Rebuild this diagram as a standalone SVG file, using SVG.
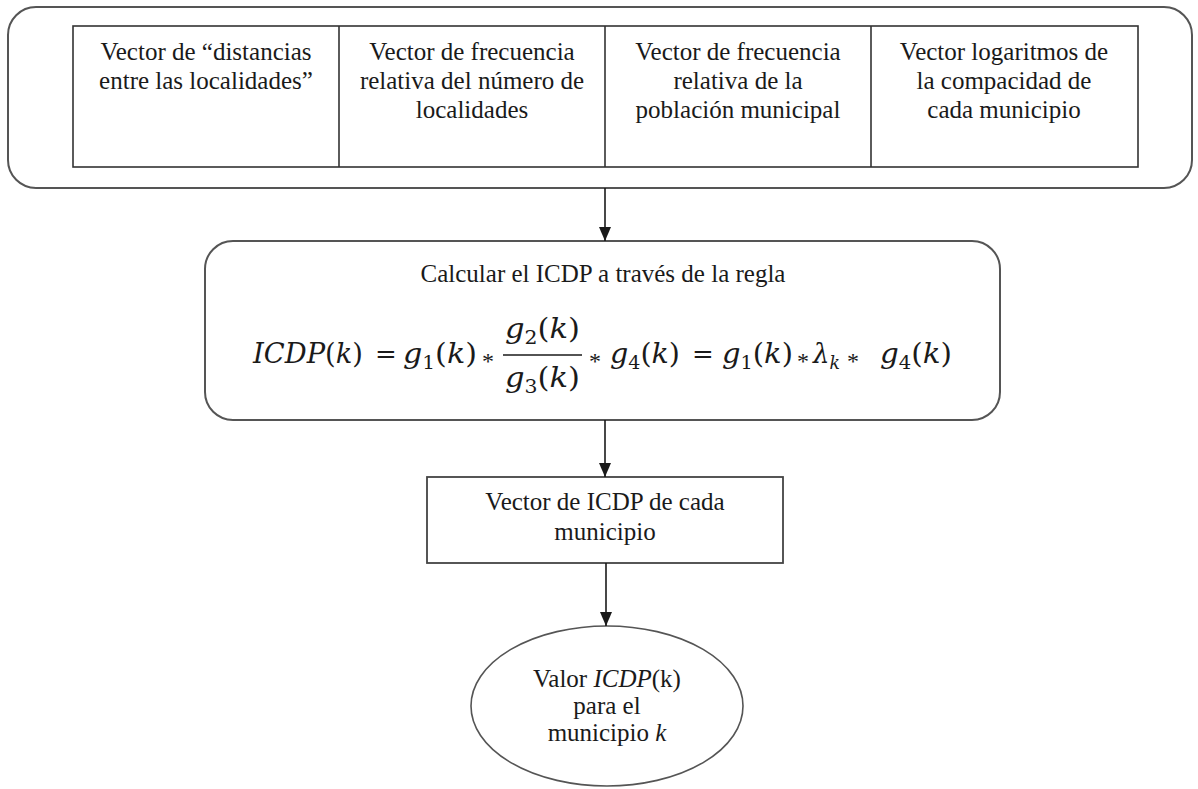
<svg xmlns="http://www.w3.org/2000/svg" width="1198" height="789" viewBox="0 0 1198 789">
<style>
.t{font-family:"Liberation Serif","Times New Roman",serif;font-size:25px;fill:#1a1a1a;text-anchor:middle}
.m{font-family:"DejaVu Serif","Liberation Serif",serif;font-size:27px;fill:#1a1a1a}
.i{font-style:italic}
.s{font-size:18px}
.op{font-family:"Liberation Serif","Times New Roman",serif;font-size:24px;fill:#1a1a1a;text-anchor:middle}
.eq{font-family:"DejaVu Serif","Liberation Serif",serif;font-size:26px;fill:#1a1a1a;text-anchor:middle}
.box{fill:#fff;stroke:#555;stroke-width:2}
.cell{fill:none;stroke:#333;stroke-width:1.6}
.conn{stroke:#1a1a1a;stroke-width:1.6;fill:none}
</style>
<defs>
<marker id="ah" viewBox="0 0 14 12" refX="14" refY="6" markerWidth="14" markerHeight="12" markerUnits="userSpaceOnUse" orient="auto">
<path d="M0,0 L14,6 L0,12 Z" fill="#1a1a1a"/>
</marker>
</defs>
<rect width="1198" height="789" fill="#fff"/>

<g id="inputs">
<rect class="box" x="8" y="7" width="1184" height="181" rx="28"/>
<rect class="cell" x="73" y="26" width="1065" height="141"/>
<line class="cell" x1="339" y1="26" x2="339" y2="167"/>
<line class="cell" x1="605" y1="26" x2="605" y2="167"/>
<line class="cell" x1="871" y1="26" x2="871" y2="167"/>
<text class="t" x="206" y="60">Vector de “distancias</text>
<text class="t" x="206" y="89">entre las localidades”</text>
<text class="t" x="472" y="60">Vector de frecuencia</text>
<text class="t" x="472" y="89">relativa del número de</text>
<text class="t" x="472" y="118">localidades</text>
<text class="t" x="738" y="60">Vector de frecuencia</text>
<text class="t" x="738" y="89">relativa de la</text>
<text class="t" x="738" y="118">población municipal</text>
<text class="t" x="1004" y="60">Vector logaritmos de</text>
<text class="t" x="1004" y="89">la compacidad de</text>
<text class="t" x="1004" y="118">cada municipio</text>
</g>

<g id="rule">
<rect class="box" x="205" y="241" width="795" height="179" rx="28"/>
<text class="t" x="603" y="282">Calcular el ICDP a través de la regla</text>
<text class="m" x="253" y="363" textLength="110" lengthAdjust="spacingAndGlyphs"><tspan class="i">ICDP</tspan>(<tspan class="i">k</tspan>)</text>
<text class="eq" x="386" y="363">=</text>
<text class="m" x="403" y="363" textLength="74" lengthAdjust="spacingAndGlyphs"><tspan class="i">g</tspan><tspan class="s" dy="6">1</tspan><tspan dy="-6">(</tspan><tspan class="i">k</tspan>)</text>
<text class="op" x="488" y="369">*</text>
<text class="m" x="505" y="338" textLength="75" lengthAdjust="spacingAndGlyphs"><tspan class="i">g</tspan><tspan class="s" dy="6">2</tspan><tspan dy="-6">(</tspan><tspan class="i">k</tspan>)</text>
<line x1="503" y1="355" x2="582" y2="355" stroke="#1a1a1a" stroke-width="1.5"/>
<text class="m" x="505" y="387" textLength="75" lengthAdjust="spacingAndGlyphs"><tspan class="i">g</tspan><tspan class="s" dy="6">3</tspan><tspan dy="-6">(</tspan><tspan class="i">k</tspan>)</text>
<text class="op" x="595" y="369">*</text>
<text class="m" x="610" y="363" textLength="70" lengthAdjust="spacingAndGlyphs"><tspan class="i">g</tspan><tspan class="s" dy="6">4</tspan><tspan dy="-6">(</tspan><tspan class="i">k</tspan>)</text>
<text class="eq" x="703" y="363">=</text>
<text class="m" x="722" y="363" textLength="71" lengthAdjust="spacingAndGlyphs"><tspan class="i">g</tspan><tspan class="s" dy="6">1</tspan><tspan dy="-6">(</tspan><tspan class="i">k</tspan>)</text>
<text class="op" x="803" y="369">*</text>
<text class="m" x="813" y="363" textLength="27" lengthAdjust="spacingAndGlyphs"><tspan class="i">λ</tspan><tspan class="i s" dy="6">k</tspan></text>
<text class="op" x="853" y="369">*</text>
<text class="m" x="880" y="363" textLength="72" lengthAdjust="spacingAndGlyphs"><tspan class="i">g</tspan><tspan class="s" dy="6">4</tspan><tspan dy="-6">(</tspan><tspan class="i">k</tspan>)</text>
</g>

<g id="vector">
<rect x="427" y="477" width="356" height="86" fill="#fff" stroke="#444" stroke-width="1.8"/>
<text class="t" x="605" y="510">Vector de ICDP de cada</text>
<text class="t" x="605" y="540">municipio</text>
</g>

<g id="result">
<ellipse cx="607" cy="706" rx="136" ry="80" fill="#fff" stroke="#555" stroke-width="1.6"/>
<text class="t" x="607" y="687">Valor <tspan class="i">ICDP</tspan>(k)</text>
<text class="t" x="607" y="714">para el</text>
<text class="t" x="607" y="741">municipio <tspan class="i">k</tspan></text>
</g>

<g id="connectors">
<line class="conn" x1="605" y1="188" x2="605" y2="241" marker-end="url(#ah)"/>
<line class="conn" x1="605" y1="420" x2="605" y2="477" marker-end="url(#ah)"/>
<line class="conn" x1="606" y1="563" x2="606" y2="626" marker-end="url(#ah)"/>
</g>
</svg>
